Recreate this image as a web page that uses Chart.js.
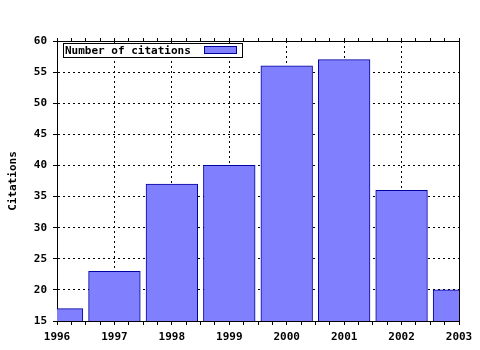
<!DOCTYPE html>
<html>
<head>
<meta charset="utf-8">
<script src="https://cdn.jsdelivr.net/npm/chart.js@4/dist/chart.umd.min.js"></script>
<style>
  html, body { margin: 0; padding: 0; background: #fff; }
</style>
</head>
<body>
<canvas id="citeChart" width="480" height="350"></canvas>
<script>
// ---------- data ----------
const years = [1996, 1997, 1998, 1999, 2000, 2001, 2002, 2003];
const citations = [17, 23, 37, 40, 56, 57, 36, 20];
const seriesName = 'Number of citations';
const yAxisTitle = 'Citations';
const yMin = 15, yMax = 60, yStep = 5;

const monoFont = { family: "'DejaVu Sans Mono', monospace", size: 11, weight: 'bold' };
const fillBlue = '#8080ff';
const edgeBlue = '#0000a0';

// legend box drawn inside the plot, top-left
const boxLegend = {
  id: 'boxLegend',
  afterDatasetsDraw(chart) {
    const ctx = chart.ctx;
    const area = chart.chartArea;
    const ds = chart.data.datasets[0];
    const x = area.left + 6, y = area.top + 2;
    ctx.save();
    ctx.font = 'bold 11px "DejaVu Sans Mono", monospace';
    ctx.textBaseline = 'middle';
    ctx.fillStyle = '#fff';
    ctx.fillRect(x, y, 179, 14);
    ctx.strokeStyle = '#000';
    ctx.lineWidth = 1;
    ctx.strokeRect(x + 0.5, y + 0.5, 179, 14);
    ctx.fillStyle = '#000';
    ctx.fillText(ds.label, x + 2, y + 8);
    ctx.fillStyle = ds.backgroundColor;
    ctx.fillRect(x + 141, y + 3, 32, 7);
    ctx.strokeStyle = ds.borderColor;
    ctx.strokeRect(x + 141.5, y + 3.5, 32, 7);
    ctx.restore();
  }
};

new Chart(document.getElementById('citeChart'), {
  type: 'bar',
  data: {
    datasets: [{
      label: seriesName,
      data: years.map((yr, i) => ({ x: yr, y: citations[i] })),
      backgroundColor: fillBlue,
      borderColor: edgeBlue,
      borderWidth: 1,
      borderSkipped: false,
      barThickness: 'flex',
      categoryPercentage: 1,
      barPercentage: 0.9,
      clip: 0
    }]
  },
  options: {
    responsive: false,
    animation: false,
    devicePixelRatio: 1,
    layout: { padding: { top: 37, right: 20, bottom: 0, left: 0 } },
    plugins: { legend: { display: false }, tooltip: { enabled: false } },
    scales: {
      x: {
        type: 'linear',
        position: 'bottom',
        offset: false,
        min: years[0],
        max: years[years.length - 1],
        afterFit: s => { s.height = 29; },
        ticks: {
          stepSize: 0.25,
          autoSkip: false,
          maxRotation: 0,
          padding: 6,
          color: '#000',
          font: monoFont,
          callback: v => Number.isInteger(v) ? String(v) : ''
        },
        grid: {
          offset: false,
          color: c => (c.tick && Number.isInteger(c.tick.value)) ? '#000' : 'rgba(0,0,0,0)',
          tickColor: '#000',
          tickLength: 4
        },
        border: { color: '#000', width: 1, dash: [2, 3] }
      },
      xTop: {
        type: 'linear',
        position: 'top',
        offset: false,
        min: years[0],
        max: years[years.length - 1],
        afterFit: s => { s.height = 4; },
        ticks: { stepSize: 0.25, autoSkip: false, display: false },
        grid: { offset: false, drawOnChartArea: false, tickColor: '#000', tickLength: 3 },
        border: { color: '#000', width: 1 }
      },
      y: {
        type: 'linear',
        position: 'left',
        min: yMin,
        max: yMax,
        afterFit: s => { s.width = 57; },
        ticks: { stepSize: yStep, padding: 6, color: '#000', font: monoFont },
        grid: { color: '#000', tickColor: '#000', tickLength: 4 },
        border: { color: '#000', width: 1, dash: [2, 3] },
        title: {
          display: true,
          text: yAxisTitle,
          color: '#000',
          font: monoFont,
          padding: { top: 7, bottom: 0 }
        }
      },
      yRight: {
        type: 'linear',
        position: 'right',
        min: yMin,
        max: yMax,
        afterFit: s => { s.width = 1; },
        ticks: { display: false },
        grid: { drawOnChartArea: false, drawTicks: false },
        border: { color: '#000', width: 1 }
      }
    }
  },
  plugins: [boxLegend]
});
</script>
</body>
</html>
